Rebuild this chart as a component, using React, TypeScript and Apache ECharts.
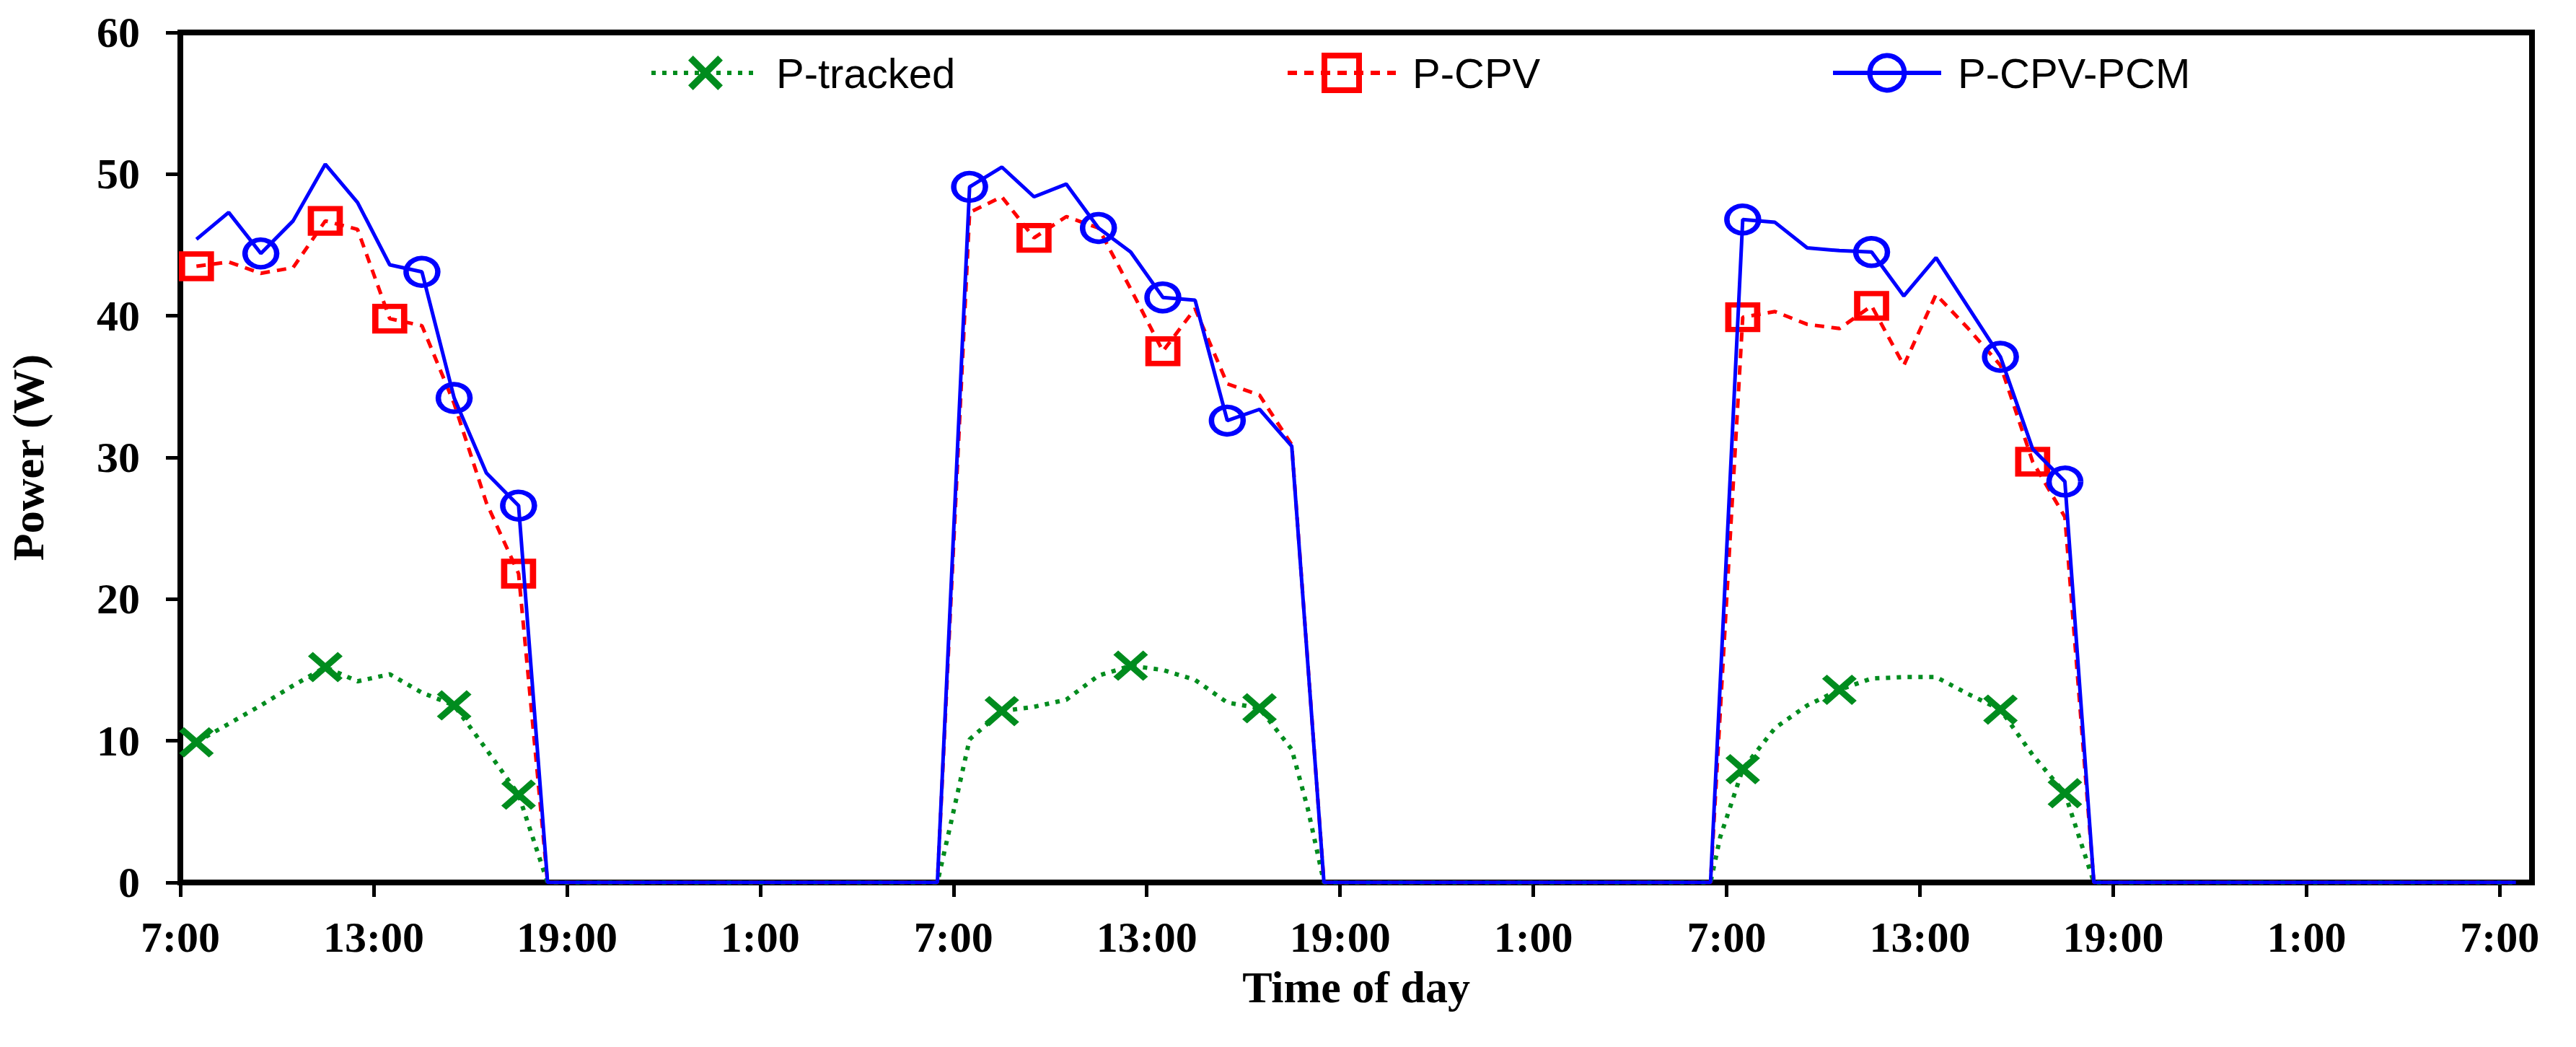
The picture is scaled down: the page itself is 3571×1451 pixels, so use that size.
import React, { useEffect, useRef } from "react";
import * as echarts from "echarts";

// x = hours elapsed since 7:00 of the first day
const clockStartHour = 7;
const xTickHours = [0, 6, 12, 18, 24, 30, 36, 42, 48, 54, 60, 66, 72];
const yTicks = [0, 10, 20, 30, 40, 50, 60];

// P-tracked (green dotted, X markers)
const trackedHours = [
  0.5, 1.5, 2.5, 3.5, 4.5, 5.5, 6.5, 7.5, 8.5, 9.5, 10.5, 11.4,
  23.5, 23.9, 24.5, 25.5, 26.5, 27.5, 28.5, 29.5, 30.5, 31.5, 32.5, 33.5, 34.5, 35.0, 35.5,
  47.5, 47.8, 48.5, 49.5, 50.5, 51.5, 52.5, 53.5, 54.5, 55.5, 56.5, 57.5, 58.5, 59.4,
  72.5,
];
const trackedPower = [
  9.9, 11.2, 12.5, 13.9, 15.2, 14.2, 14.7, 13.4, 12.5, 9.4, 6.2, 0,
  0, 4.0, 10.1, 12.1, 12.4, 12.9, 14.6, 15.3, 15.0, 14.3, 12.7, 12.3, 9.4, 5.2, 0,
  0, 3.2, 8.0, 10.9, 12.5, 13.6, 14.4, 14.5, 14.5, 13.3, 12.2, 9.0, 6.3, 0,
  0,
];
const trackedMarkerHours = [0.5, 4.5, 8.5, 10.5, 25.5, 29.5, 33.5, 48.5, 51.5, 56.5, 58.5];

// P-CPV (red dashed, square markers)
const cpvHours = [
  0.5, 1.5, 2.5, 3.5, 4.5, 5.5, 6.5, 7.5, 8.5, 9.5, 10.5, 11.4,
  23.5, 24.5, 25.5, 26.5, 27.5, 28.5, 29.5, 30.5, 31.5, 32.5, 33.5, 34.5, 35.5,
  47.5, 48.5, 49.5, 50.5, 51.5, 52.5, 53.5, 54.5, 55.5, 56.5, 57.5, 58.5, 59.4,
  72.5,
];
const cpvPower = [
  43.5, 43.8, 43.0, 43.4, 46.7, 46.1, 39.8, 39.3, 33.8, 26.8, 21.8, 0,
  0, 47.3, 48.4, 45.5, 47.0, 46.2, 41.9, 37.5, 40.5, 35.2, 34.4, 30.9, 0,
  0, 39.9, 40.3, 39.4, 39.1, 40.7, 36.5, 41.5, 39.1, 36.5, 29.7, 25.8, 0,
  0,
];
const cpvMarkerHours = [0.5, 4.5, 6.5, 10.5, 26.5, 30.5, 48.5, 52.5, 57.5];

// P-CPV-PCM (blue solid, circle markers)
const pcmHours = [
  0.5, 1.5, 2.5, 3.5, 4.5, 5.5, 6.5, 7.5, 8.5, 9.5, 10.5, 11.4,
  23.5, 24.5, 25.5, 26.5, 27.5, 28.5, 29.5, 30.5, 31.5, 32.5, 33.5, 34.5, 35.5,
  47.5, 48.5, 49.5, 50.5, 51.5, 52.5, 53.5, 54.5, 55.5, 56.5, 57.5, 58.5, 59.4,
  72.5,
];
const pcmPower = [
  45.4, 47.3, 44.4, 46.7, 50.7, 48.0, 43.6, 43.1, 34.2, 28.9, 26.6, 0,
  0, 49.1, 50.5, 48.4, 49.3, 46.2, 44.5, 41.3, 41.1, 32.6, 33.4, 30.8, 0,
  0, 46.8, 46.6, 44.8, 44.6, 44.5, 41.4, 44.1, 40.6, 37.1, 30.6, 28.3, 0,
  0,
];
const pcmMarkerHours = [2.5, 7.5, 8.5, 10.5, 24.5, 28.5, 30.5, 32.5, 48.5, 52.5, 56.5, 58.5];

const GREEN = "#008c1e";
const RED = "#ff0000";
const BLUE = "#0000ff";
const SERIF = "'Liberation Serif', 'Times New Roman', serif";
const SANS = "'Liberation Sans', Arial, sans-serif";

const X_SYMBOL =
  "path://M1.4,0 L5,3.6 L8.6,0 L10,1.4 L6.4,5 L10,8.6 L8.6,10 L5,6.4 L1.4,10 L0,8.6 L3.6,5 L0,1.4 Z";

const GREEN_DASH = [6, 9];
const RED_DASH = [13, 10];

function buildData(hours: number[], power: number[], markers: number[]) {
  return hours.map((h, i) => {
    const item: any = { value: [h, power[i]] };
    if (!markers.includes(h)) item.symbol = "none";
    return item;
  });
}

function hourLabel(v: number): string {
  if (v % 6 !== 0 || v > 72) return "";
  return `${(v + clockStartHour) % 24}:00`;
}

export default function App() {
  const ref = useRef<HTMLDivElement>(null);

  useEffect(() => {
    if (!ref.current) return;
    const chart = echarts.init(ref.current, undefined, { renderer: "svg" });

    const legendCommon = {
      orient: "horizontal",
      padding: 0,
      top: 72,
      itemWidth: 150,
      itemHeight: 60,
      selectedMode: false,
      textStyle: {
        fontFamily: SANS,
        fontSize: 58,
        color: "#000",
        padding: [0, 0, 0, 18],
      },
    };

    const axisLabelStyle = {
      fontFamily: SERIF,
      fontWeight: "bold",
      fontSize: 60,
      color: "#000",
    };

    chart.setOption({
      animation: false,
      backgroundColor: "#fff",
      textStyle: { fontFamily: SERIF },
      grid: {
        left: 250,
        right: 61,
        top: 45,
        bottom: 228,
        show: true,
        borderColor: "#000",
        borderWidth: 8,
        backgroundColor: "transparent",
      },
      legend: [
        {
          ...legendCommon,
          data: ["P-tracked"],
          left: 900,
          lineStyle: { color: GREEN, width: 6, type: GREEN_DASH },
          itemStyle: { color: GREEN, borderWidth: 0 },
        },
        {
          ...legendCommon,
          data: ["P-CPV"],
          left: 1782,
          lineStyle: { color: RED, width: 6, type: RED_DASH },
          itemStyle: { color: "rgba(255,255,255,0)", borderColor: RED, borderWidth: 8 },
        },
        {
          ...legendCommon,
          data: ["P-CPV-PCM"],
          left: 2538,
          lineStyle: { color: BLUE, width: 6, type: "solid" },
          itemStyle: { color: "rgba(255,255,255,0)", borderColor: BLUE, borderWidth: 7 },
        },
      ],
      xAxis: {
        type: "value",
        min: 0,
        max: 73,
        interval: 6,
        name: "Time of day",
        nameLocation: "middle",
        nameGap: 114,
        nameTextStyle: { fontFamily: SERIF, fontWeight: "bold", fontSize: 62, color: "#000" },
        axisLine: { show: true, onZero: false, lineStyle: { color: "#000", width: 8 } },
        axisTick: {
          show: true,
          inside: false,
          length: 20,
          customValues: xTickHours,
          lineStyle: { color: "#000", width: 5 },
        },
        axisLabel: {
          ...axisLabelStyle,
          customValues: xTickHours,
          margin: 46,
          formatter: (v: number) => hourLabel(v),
        },
        splitLine: { show: false },
      },
      yAxis: {
        type: "value",
        min: yTicks[0],
        max: yTicks[yTicks.length - 1],
        interval: 10,
        name: "Power (W)",
        nameLocation: "middle",
        nameGap: 180,
        nameTextStyle: { fontFamily: SERIF, fontWeight: "bold", fontSize: 62, color: "#000" },
        axisLine: { show: true, lineStyle: { color: "#000", width: 8 } },
        axisTick: { show: true, inside: false, length: 20, lineStyle: { color: "#000", width: 5 } },
        axisLabel: { ...axisLabelStyle, margin: 56 },
        splitLine: { show: false },
      },
      series: [
        {
          name: "P-tracked",
          type: "line",
          color: GREEN,
          data: buildData(trackedHours, trackedPower, trackedMarkerHours),
          symbol: X_SYMBOL,
          symbolSize: [48, 42],
          showAllSymbol: true,
          lineStyle: { color: GREEN, width: 6, type: GREEN_DASH },
          itemStyle: { color: GREEN },
          z: 2,
        },
        {
          name: "P-CPV",
          type: "line",
          color: RED,
          data: buildData(cpvHours, cpvPower, cpvMarkerHours),
          symbol: "rect",
          symbolSize: [40, 34],
          showAllSymbol: true,
          lineStyle: { color: RED, width: 5, type: RED_DASH },
          itemStyle: { color: "rgba(255,255,255,0)", borderColor: RED, borderWidth: 8 },
          z: 3,
        },
        {
          name: "P-CPV-PCM",
          type: "line",
          color: BLUE,
          data: buildData(pcmHours, pcmPower, pcmMarkerHours),
          symbol: "circle",
          symbolSize: [44, 38],
          showAllSymbol: true,
          lineStyle: { color: BLUE, width: 5 },
          itemStyle: { color: "rgba(255,255,255,0)", borderColor: BLUE, borderWidth: 7 },
          z: 4,
        },
      ],
    });

    return () => {
      chart.dispose();
    };
  }, []);

  return (
    <div
      ref={ref}
      style={{
        position: "fixed",
        left: 0,
        top: 0,
        width: 3571,
        height: 1451,
        background: "#fff",
      }}
    />
  );
}
